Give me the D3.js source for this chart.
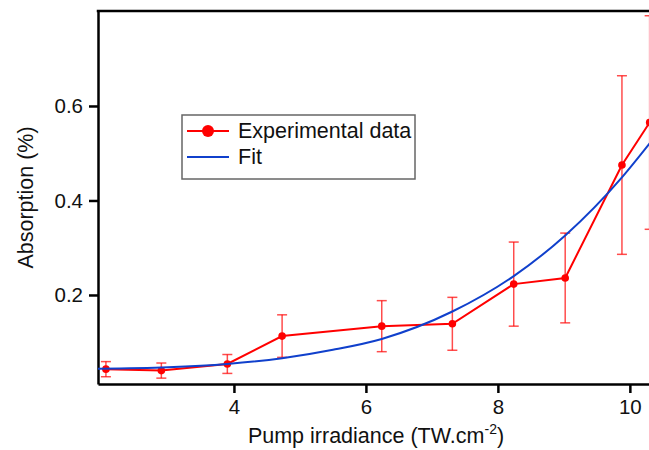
<!DOCTYPE html>
<html>
<head>
<meta charset="utf-8">
<script src="https://cdn.jsdelivr.net/npm/d3@7"></script>
<style>
  body { margin: 0; background: #fff; }
  text { font-family: "Liberation Sans", Arial, Helvetica, sans-serif; fill: #111; }
</style>
</head>
<body>
<script>
// measured data (pump irradiance in TW/cm2, absorption in %)
let irradiance = [2.06, 2.90, 3.90, 4.73, 6.24, 7.31, 8.24, 9.02, 9.88, 10.30]
let absorption = [0.043, 0.040, 0.054, 0.113, 0.134, 0.139, 0.223, 0.236, 0.475, 0.565]
let errors     = [0.016, 0.016, 0.020, 0.045, 0.054, 0.056, 0.089, 0.095, 0.189, 0.226]

// fit curve
let fitX = [1.94, 3.0, 3.9, 4.73, 5.5, 6.24, 7.31, 8.24, 9.02, 9.88, 10.3]
let fitY = [0.044, 0.047, 0.054, 0.066, 0.084, 0.107, 0.165, 0.240, 0.326, 0.449, 0.521]

let xTicks = [4, 6, 8, 10]
let yTicks = [0.2, 0.4, 0.6]

let w = 649
let h = 450
let plotLeft = 98, plotRight = 649, plotTop = 11, plotBottom = 384
let labelSize = 21.5

let svg = d3.select("body").append("svg")
  .attr("width", w)
  .attr("height", h)

let xScale = d3.scaleLinear().domain([1.94, 10.29]).range([plotLeft, plotRight])
let yScale = d3.scaleLinear().domain([0.0116, 0.801]).range([plotBottom, plotTop])

// axes
let xAxis = d3.axisBottom(xScale).tickValues(xTicks).tickSize(9).tickSizeOuter(0).tickPadding(6)
let yAxis = d3.axisLeft(yScale).tickValues(yTicks).tickSize(9).tickSizeOuter(0).tickPadding(6)
  .tickFormat(d3.format(".1f"))

let gx = svg.append("g").attr("transform", "translate(0," + plotBottom + ")").call(xAxis)
let gy = svg.append("g").attr("transform", "translate(" + plotLeft + ",0)").call(yAxis)

gx.select(".domain").attr("stroke", "#000").attr("stroke-width", 2.5)
gy.select(".domain").attr("stroke", "#000").attr("stroke-width", 2.5)
gx.selectAll(".tick line").attr("stroke", "#000").attr("stroke-width", 2.5)
gy.selectAll(".tick line").attr("stroke", "#000").attr("stroke-width", 2.5)
gx.selectAll(".tick text").attr("font-size", 20.5).attr("fill", "#111")
  .attr("font-family", "Liberation Sans, Arial, sans-serif")
gy.selectAll(".tick text").attr("font-size", 20.5).attr("fill", "#111")
  .attr("font-family", "Liberation Sans, Arial, sans-serif")

// top frame line
svg.append("line")
  .attr("x1", plotLeft - 1.25).attr("x2", plotRight)
  .attr("y1", plotTop).attr("y2", plotTop)
  .attr("stroke", "#000").attr("stroke-width", 2.5)

// axis titles
let xt = svg.append("text")
  .attr("x", 376)
  .attr("y", 443)
  .attr("text-anchor", "middle")
  .attr("font-size", labelSize)
xt.append("tspan").text("Pump irradiance (TW.cm")
xt.append("tspan").text("-2").attr("font-size", 14).attr("dy", -9)
xt.append("tspan").text(")").attr("dy", 9)

svg.append("text")
  .attr("transform", "translate(33," + ((plotTop + plotBottom) / 2) + ") rotate(-90)")
  .attr("text-anchor", "middle")
  .attr("font-size", labelSize)
  .text("Absorption (%)")

let points = irradiance.map((x, i) => ({x: x, y: absorption[i], e: errors[i]}))
let fitPoints = fitX.map((x, i) => ({x: x, y: fitY[i]}))

// error bars
let eb = svg.append("g")
  .attr("stroke", "#ff0000")
  .attr("stroke-opacity", 0.7)
  .attr("stroke-width", 1.5)

points.forEach((p) => {
  let cx = xScale(p.x)
  eb.append("line")
    .attr("x1", cx).attr("x2", cx)
    .attr("y1", yScale(p.y - p.e)).attr("y2", yScale(p.y + p.e))
  eb.append("line")
    .attr("x1", cx - 5).attr("x2", cx + 5)
    .attr("y1", yScale(p.y + p.e)).attr("y2", yScale(p.y + p.e))
  eb.append("line")
    .attr("x1", cx - 5).attr("x2", cx + 5)
    .attr("y1", yScale(p.y - p.e)).attr("y2", yScale(p.y - p.e))
})

// experimental line + markers
let line = d3.line()
  .x((d) => xScale(d.x))
  .y((d) => yScale(d.y))

svg.append("path")
  .datum(points)
  .attr("d", line)
  .attr("fill", "none")
  .attr("stroke", "#ff0000")
  .attr("stroke-width", 2)

svg.selectAll(".dot")
  .data(points)
  .enter()
  .append("circle")
  .attr("class", "dot")
  .attr("cx", (d) => xScale(d.x))
  .attr("cy", (d) => yScale(d.y))
  .attr("r", 3.8)
  .attr("fill", "#ff0000")

// fit curve
let fitLine = d3.line()
  .x((d) => xScale(d.x))
  .y((d) => yScale(d.y))
  .curve(d3.curveMonotoneX)

svg.append("path")
  .datum(fitPoints)
  .attr("d", fitLine)
  .attr("fill", "none")
  .attr("stroke", "#1040cc")
  .attr("stroke-width", 2)

// legend
let legend = svg.append("g")

legend.append("rect")
  .attr("x", 182)
  .attr("y", 115)
  .attr("width", 233)
  .attr("height", 64)
  .attr("fill", "#fff")
  .attr("stroke", "#666")
  .attr("stroke-width", 1.5)

legend.append("line")
  .attr("x1", 187).attr("x2", 229)
  .attr("y1", 131).attr("y2", 131)
  .attr("stroke", "#ff0000").attr("stroke-width", 2)
legend.append("circle")
  .attr("cx", 208).attr("cy", 131).attr("r", 6)
  .attr("fill", "#ff0000")
legend.append("text")
  .text("Experimental data")
  .attr("x", 238).attr("y", 138)
  .attr("font-size", labelSize)

legend.append("line")
  .attr("x1", 187).attr("x2", 229)
  .attr("y1", 157).attr("y2", 157)
  .attr("stroke", "#1040cc").attr("stroke-width", 2)
legend.append("text")
  .text("Fit")
  .attr("x", 238).attr("y", 164)
  .attr("font-size", labelSize)
</script>
</body>
</html>
